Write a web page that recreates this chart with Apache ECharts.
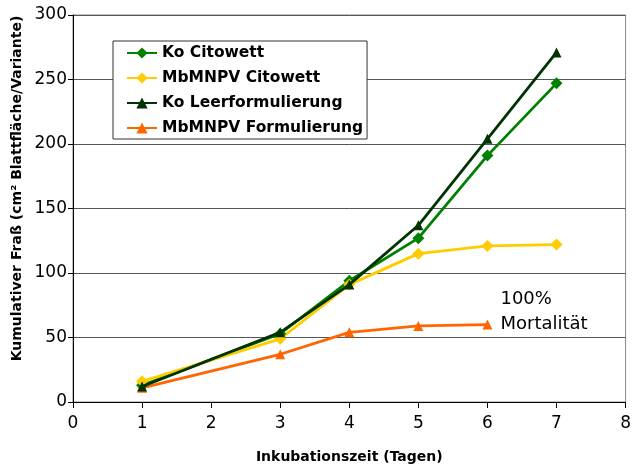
<!DOCTYPE html>
<html>
<head>
<meta charset="utf-8">
<script src="https://cdn.jsdelivr.net/npm/echarts@6/dist/echarts.min.js"></script>
<style>html,body{margin:0;padding:0;background:#fff}#c{width:634px;height:469px}</style>
</head>
<body>
<div id="c"></div>
<script>
// Data
const days = [1, 3, 4, 5, 6, 7];
const seriesNames = ["Ko Citowett", "MbMNPV Citowett", "Ko Leerformulierung", "MbMNPV Formulierung"];
const koCitowett = [13, 53, 94, 127, 191, 247];
const mbCitowett = [16, 49, 91, 115, 121, 122];
const koLeer = [12, 54, 91, 137, 204, 271];
const mbFormDays = [1, 3, 4, 5, 6];
const mbForm = [11, 37, 54, 59, 60];
const xTicks = [0, 1, 2, 3, 4, 5, 6, 7, 8];
const yTicks = [0, 50, 100, 150, 200, 250, 300];
const annotation = "100%\nMortalität";

const colors = ["#008000", "#FFCC00", "#003300", "#FF6600"];
const symbols = ["diamond", "diamond", "triangle", "triangle"];

function pairs(xs, ys) { return xs.map((x, i) => [x, ys[i]]); }

const dataSets = [pairs(days, koCitowett), pairs(days, mbCitowett), pairs(days, koLeer), pairs(mbFormDays, mbForm)];

const chart = echarts.init(document.getElementById('c'), null, {renderer: 'canvas'});
const series = dataSets.map((d, i) => ({
  name: seriesNames[i],
  type: 'line',
  data: d,
  symbol: symbols[i],
  symbolSize: i < 2 ? 12 : 10,
  color: colors[i],
  lineStyle: {width: 2.8, color: colors[i]},
  itemStyle: {color: colors[i]},
  z: i === 2 ? 3 : 2,
  animation: false
}));
// annotation label on the last point of MbMNPV Formulierung
series[3].data = series[3].data.map((p, i, arr) => i === arr.length - 1 ? {
  value: p,
  label: {
    show: true, formatter: annotation, position: 'right', distance: 8, offset: [0, -13],
    fontFamily: 'DejaVu Sans', fontSize: 18, lineHeight: 25, color: '#000', align: 'left'
  }
} : p);

chart.setOption({
  backgroundColor: '#fff',
  animation: false,
  grid: {left: 73, right: 4, top: 15, bottom: 66, show: true, borderColor: '#888', borderWidth: 1},
  legend: {
    orient: 'vertical',
    left: 113, top: 41,
    padding: [4, 4, 3, 13],
    itemGap: 9,
    itemWidth: 30, itemHeight: 14,
    backgroundColor: '#fff',
    borderColor: '#333', borderWidth: 1,
    data: seriesNames,
    textStyle: {fontFamily: 'DejaVu Sans', fontWeight: 'bold', fontSize: 15.5, color: '#000'}
  },
  xAxis: {
    type: 'value', min: 0, max: 8, interval: 1,
    name: 'Inkubationszeit (Tagen)', nameLocation: 'middle', nameGap: 48, nameMoveOverlap: false,
    nameTextStyle: {fontFamily: 'DejaVu Sans', fontWeight: 'bold', fontSize: 14, color: '#000'},
    axisLine: {lineStyle: {color: '#000', width: 1}},
    axisTick: {show: true, length: 6, lineStyle: {color: '#000'}},
    axisLabel: {fontFamily: 'DejaVu Sans', fontSize: 17, color: '#000', margin: 13,
      formatter: v => xTicks.includes(v) ? String(v) : ''},
    splitLine: {show: false}
  },
  yAxis: {
    type: 'value', min: 0, max: 300, interval: 50,
    name: 'Kumulativer Fraß (cm² Blattfläche/Variante)', nameLocation: 'middle', nameGap: 49, nameMoveOverlap: false,
    nameTextStyle: {fontFamily: 'DejaVu Sans', fontWeight: 'bold', fontSize: 14, color: '#000', padding: [0, 0, 0, 40]},
    axisLine: {show: true, lineStyle: {color: '#000', width: 1}},
    axisTick: {show: true, length: 5, lineStyle: {color: '#000'}},
    axisLabel: {fontFamily: 'DejaVu Sans', fontSize: 17, color: '#000', margin: 6,
      formatter: v => yTicks.includes(v) ? String(v) : ''},
    splitLine: {show: true, lineStyle: {color: '#555', width: 1}}
  },
  series: series
});
</script>
</body>
</html>
